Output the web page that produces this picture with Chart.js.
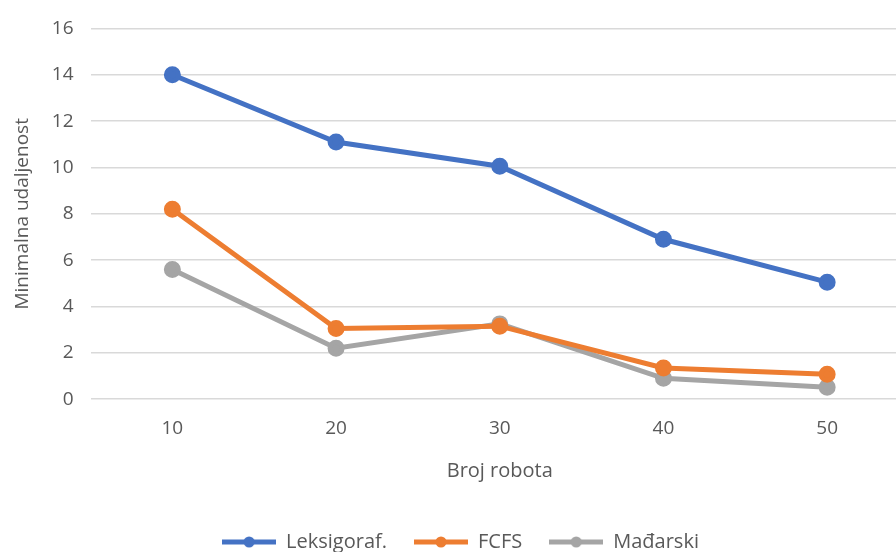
<!DOCTYPE html>
<html>
<head>
<meta charset="utf-8">
<script src="https://cdn.jsdelivr.net/npm/chart.js@4"></script>
<style>
  html, body { margin: 0; padding: 0; background: #fff; overflow: hidden; }
  #wrap { width: 920px; height: 552px; position: relative; }
</style>
</head>
<body>
<div id="wrap"><canvas id="chart"></canvas></div>
<script>
const categories = ['10', '20', '30', '40', '50'];
const leksigoraf = [14.0, 11.1, 10.05, 6.9, 5.05];
const fcfs = [8.2, 3.05, 3.15, 1.35, 1.08];
const madarski = [5.6, 2.2, 3.25, 0.9, 0.52];
const seriesNames = ['Leksigoraf.', 'FCFS', 'Mađarski'];
const colors = ['#4472C4', '#ED7D31', '#A5A5A5'];

// legend marker: short line with a dot in the middle
function marker(color) {
  var c = document.createElement('canvas');
  c.width = 54; c.height = 14;
  var g = c.getContext('2d');
  g.strokeStyle = color;
  g.lineWidth = 5;
  g.beginPath(); g.moveTo(0, 7); g.lineTo(54, 7); g.stroke();
  g.fillStyle = color;
  g.beginPath(); g.arc(27, 7, 5.5, 0, Math.PI * 2); g.fill();
  return c;
}

var font = "'Open Sans', 'Noto Sans', sans-serif";
var ctx = document.getElementById('chart').getContext('2d');

new Chart(ctx, {
  type: 'line',
  data: {
    labels: categories,
    datasets: [leksigoraf, fcfs, madarski].map(function (vals, i) {
      return {
        label: seriesNames[i],
        data: vals,
        borderColor: colors[i],
        backgroundColor: colors[i],
        borderWidth: 5,
        pointRadius: 6,
        pointHoverRadius: 6,
        pointStyle: 'circle',
        tension: 0
      };
    })
  },
  options: {
    responsive: true,
    maintainAspectRatio: false,
    animation: false,
    layout: { padding: { top: 0, left: 11, right: 10, bottom: -10 } },
    plugins: {
      tooltip: { enabled: false },
      legend: {
        position: 'bottom',
        labels: {
          usePointStyle: true,
          pointStyleWidth: 54,
          boxHeight: 14,
          padding: 27,
          color: '#595959',
          font: { family: font, size: 20 },
          generateLabels: function (chart) {
            return chart.data.datasets.map(function (ds, i) {
              return {
                text: ds.label,
                pointStyle: marker(colors[i]),
                fillStyle: colors[i],
                strokeStyle: colors[i],
                lineWidth: 0,
                hidden: false,
                datasetIndex: i,
                fontColor: '#595959'
              };
            });
          }
        }
      }
    },
    scales: {
      x: {
        offset: true,
        grid: { display: false },
        border: { display: false },
        ticks: { color: '#595959', padding: 10, font: { family: font, size: 19 } },
        title: {
          display: true,
          text: 'Broj robota',
          color: '#595959',
          padding: { top: 9, bottom: 22 },
          font: { family: font, size: 20 }
        }
      },
      y: {
        min: 0,
        max: 16,
        ticks: { stepSize: 2, color: '#595959', padding: 17, font: { family: font, size: 19 } },
        grid: { color: '#D9D9D9', lineWidth: 1.5, drawTicks: false },
        border: { display: false },
        title: {
          display: true,
          text: 'Minimalna udaljenost',
          color: '#595959',
          padding: { top: 0, bottom: 1 },
          font: { family: font, size: 19 }
        }
      }
    }
  }
});
</script>
</body>
</html>
